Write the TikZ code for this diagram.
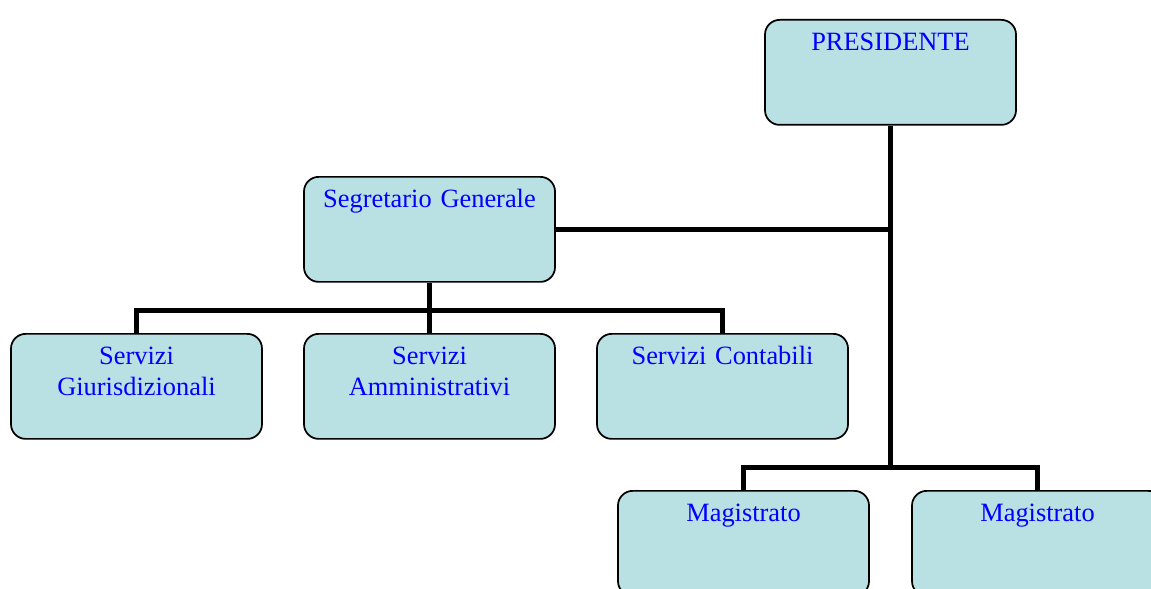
\documentclass[tikz,border=0pt]{standalone}
\usepackage{fontspec}
\setmainfont{Liberation Serif}
\usetikzlibrary{calc}
\definecolor{Cbox}{RGB}{185,224,227}
\definecolor{Ctext}{RGB}{0,0,255}
\def\Wpic{1151}
\def\Hpic{588}
\def\Wbox{251}
\def\Rowa{19}
\def\Rowb{176}
\def\Rowc{333}
\def\Rowd{490}
\begin{document}
\begin{tikzpicture}[x=0.75pt,y=-0.75pt,
    box/.style={draw=black,line width=1.3pt,fill=Cbox,rounded corners=11pt,
        anchor=north,text width=\Wbox*0.75pt-8pt,inner xsep=4pt,inner ysep=0pt,
        text height=23.25pt,text depth=55.5pt,align=center,text=Ctext,
        font=\fontsize{19.8}{23.25}\selectfont},
    link/.style={line width=3.9pt,draw=black}]
    \path[use as bounding box] (0,0) rectangle (\Wpic,\Hpic);
    % boxes
    \node[box] (pres) at (890.5,\Rowa) {PRESIDENTE};
    \node[box] (seg) at (429.5,\Rowb) {Segretario Generale};
    \foreach \N/\X/\T in {giur/136.5/{Servizi\\Giurisdizionali},amm/429.5/{Servizi\\Amministrativi},cont/722.5/{Servizi Contabili}} {
        \node[box] (\N) at (\X,\Rowc) {\T};
    }
    \node[box] (magA) at (743.5,\Rowd) {Magistrato};
    \node[box] (magB) at (1037.5,\Rowd) {Magistrato};
    % connectors
    \coordinate (sbus) at ($(seg.south)+(0,28)$);
    \coordinate (mbus) at ($(pres.south)+(0,342)$);
    \draw[link] (pres.south) -- (mbus);
    \draw[link] (seg.east) -- (seg.east -| pres.south);
    \draw[link] (seg.south) -- (sbus);
    \draw[link] (giur.north) |- (sbus) -| (cont.north);
    \draw[link] (amm.north) -- (sbus);
    \draw[link] (magA.north) |- (mbus) -| (magB.north);
\end{tikzpicture}
\end{document}
